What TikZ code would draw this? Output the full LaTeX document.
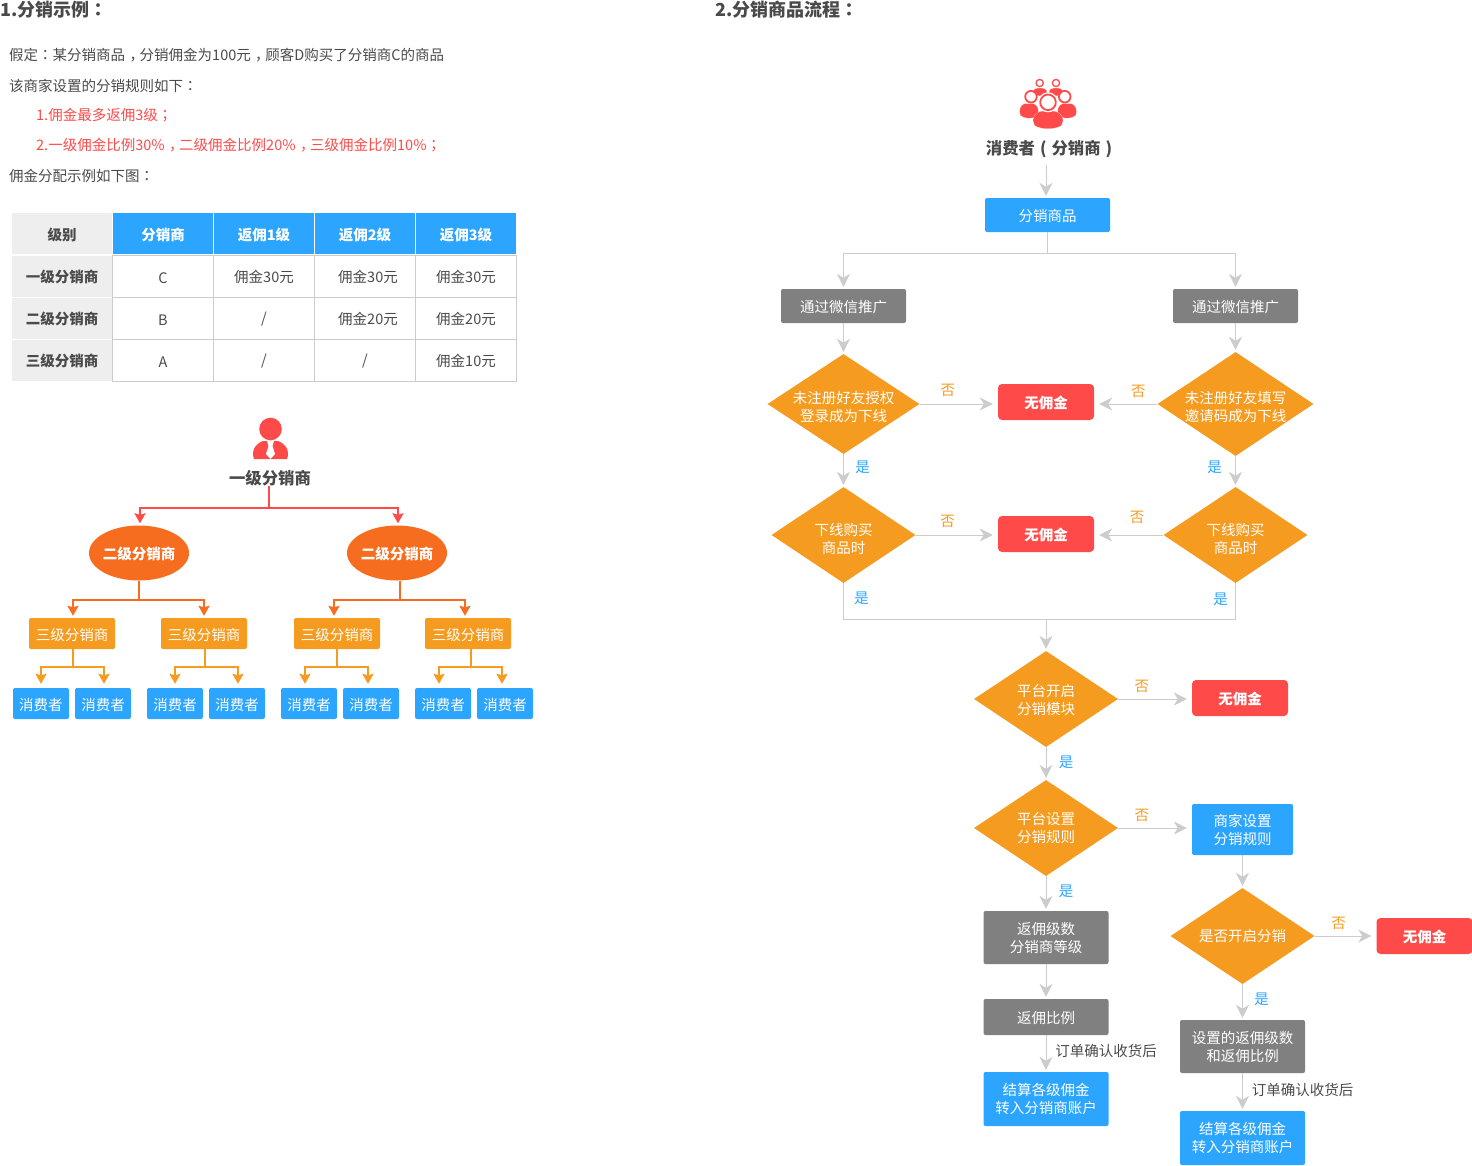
\documentclass[tikz,border=0pt]{standalone}
\usepackage{fontspec}
\setmainfont{Noto Sans CJK SC}
\newfontfamily\pctfont{Noto Sans CJK TC}
\usetikzlibrary{arrows.meta,positioning,shapes.geometric}

\definecolor{bluefill}{HTML}{2BA5FF}
\definecolor{orangefill}{HTML}{F59B20}
\definecolor{deepfill}{HTML}{F76D20}
\definecolor{redfill}{HTML}{FF4A4A}
\definecolor{grayfill}{HTML}{808080}
\definecolor{linegray}{HTML}{CCCCCC}
\definecolor{cellgray}{HTML}{EEEEEE}
\definecolor{textgray}{HTML}{4A4A4A}

\newcommand{\fsmall}{\fontsize{14.5}{18}\selectfont}
\newcommand{\fbold}{\fontsize{14.5}{18}\selectfont\bfseries}
\newcommand{\fhead}{\fontsize{16.4}{20}\selectfont\bfseries}
\newcommand{\ftitle}{\fontsize{18}{20}\selectfont\bfseries}
\newcommand{\pct}[1]{{\pctfont #1}}
\newcommand{\cma}{\hspace*{.3em}\makebox[.7em][l]{，}}
\newcommand{\paren}[1]{\makebox[1em][c]{#1}}
\newcommand{\lowfirst}{\rule{0pt}{19pt}}

\begin{document}
\begin{tikzpicture}[%
    x=1pt,y=-1pt,
    on grid,
    node distance=42pt,
    inner sep=0pt,
    nudge/.style={execute at begin node=\rule{0pt}{14.5pt}},
    tall/.style={execute at begin node=\rule{0pt}{16.5pt}},
    txt/.style={anchor=west,font=\fsmall,text=textgray},
    redtxt/.style={anchor=west,font=\fsmall,text=redfill},
    title/.style={anchor=west,font=\ftitle,text=textgray},
    head/.style={font=\fhead,text=textgray},
    graycell/.style={nudge,fill=cellgray,minimum width=100pt,minimum height=41pt,font=\fbold,text=textgray},
    bluecell/.style={nudge,fill=bluefill,minimum width=100pt,minimum height=41pt,font=\fbold,text=white},
    bodycell/.style={nudge,draw=linegray,line width=.8pt,minimum width=101pt,minimum height=42pt,font=\fsmall,text=textgray},
    flat/.style={nudge,rectangle,rounded corners=2pt,align=center,font=\fsmall,text=white},
    oval/.style={nudge,ellipse,inner sep=-8pt,fill=deepfill,minimum width=100pt,minimum height=55pt,font=\fbold,text=white},
    levelbox/.style={flat,fill=orangefill,minimum width=86pt,minimum height=31pt},
    buyerbox/.style={flat,fill=bluefill,minimum width=56pt,minimum height=31pt},
    bluebox/.style={flat,fill=bluefill,minimum width=125pt,minimum height=34pt},
    graybox/.style={flat,fill=grayfill,minimum width=125pt,minimum height=34pt},
    redbox/.style={flat,rounded corners=4pt,fill=redfill,minimum width=96pt,minimum height=36pt,font=\fbold},
    dia/.style={diamond,inner sep=-14pt,shape aspect=1.5,fill=orangefill,align=center,font=\fsmall,text=white,minimum width=144pt,minimum height=96pt},
    no/.style={font=\fsmall,text=orangefill},
    yes/.style={font=\fsmall,text=bluefill},
    note/.style={font=\fsmall,text=textgray},
    flow/.style={draw=linegray,line width=1pt},
    vgo/.style={flow,-{Stealth[length=13pt,width=13pt,inset=4pt]},shorten >=2pt},
    hgo/.style={flow,-{Stealth[length=13pt,width=13pt,inset=4pt]},shorten >=5pt},
    redtree/.style={draw=redfill,line width=2pt,-{Stealth[length=10pt,width=11pt,inset=1.5pt]},shorten >=2pt},
    deeptree/.style={draw=deepfill,line width=2pt,-{Stealth[length=10pt,width=11pt,inset=1.5pt]},shorten >=2pt},
    goldtree/.style={draw=orangefill,line width=2pt,-{Stealth[length=10pt,width=11pt,inset=1.5pt]},shorten >=4pt},
    bust/.pic={
        \fill[redfill,draw=white,line width=.12pt]
            (-1,.55) .. controls (-1,.15) and (-.6,0) .. (-.3,0) -- (.3,0)
            .. controls (.6,0) and (1,.15) .. (1,.55) -- (.9,.8)
            .. controls (.5,1.05) and (-.5,1.05) .. (-.9,.8) -- cycle;
    }
    ]
    \useasboundingbox (0,0) rectangle (1472,1165);

    % left: rule text
    \node[title] (t1) at (0,9.5) {1.分销示例\pct{：}};
    \node[title] (t2) at (715,9.5) {2.分销商品流程\pct{：}};
    \node[txt] (l1) at (9,55.5) {假定\pct{：}某分销商品\cma 分销佣金为100元\cma 顾客D购买了分销商C的商品};
    \node[txt] (l2) at (9,85.5) {该商家设置的分销规则如下\pct{：}};
    \node[redtxt] (l3) at (36,115.5) {1.佣金最多返佣3级\pct{；}};
    \node[redtxt] (l4) at (36,145.5) {2.一级佣金比例30\%\cma 二级佣金比例20\%\cma 三级佣金比例10\%\pct{；}};
    \node[txt] (l5) at (9,175.5) {佣金分配示例如下图\pct{：}};

    % table
    \node[graycell] (h0) at (62,233.5) {级别};
    \node[bluecell] (h1) [right=101pt of h0] {分销商};
    \node[bluecell] (h2) [right=101pt of h1] {返佣1级};
    \node[bluecell] (h3) [right=101pt of h2] {返佣2级};
    \node[bluecell] (h4) [right=101pt of h3] {返佣3级};
    \node[graycell] (r1) at (62,276) {一级分销商};
    \node[graycell] (r2) [below=of r1] {二级分销商};
    \node[graycell] (r3) [below=of r2] {三级分销商};
    \node[bodycell] (c11) at (163,276) {C};
    \node[bodycell] (c12) [right=101pt of c11] {佣金30元};
    \node[bodycell] (c13) [right=101pt of c12] {\hspace*{6pt}佣金30元};
    \node[bodycell] (c14) [right=101pt of c13] {佣金30元};
    \node[bodycell] (c21) [below=of c11] {B};
    \node[bodycell] (c22) [below=of c12] {/};
    \node[bodycell] (c23) [below=of c13] {\hspace*{6pt}佣金20元};
    \node[bodycell] (c24) [below=of c14] {佣金20元};
    \node[bodycell] (c31) [below=of c21] {A};
    \node[bodycell] (c32) [below=of c22] {/};
    \node[bodycell] (c33) [below=of c23] {/};
    \node[bodycell] (c34) [below=of c24] {佣金10元};

    % left: tree
    \fill[redfill] (270.5,429) circle (11.3pt);
    \fill[redfill] (254,459) .. controls (251,451) and (255,444) .. (263,441) -- (278,441)
        .. controls (286,444) and (290,451) .. (287,459) -- cycle;
    \fill[white] (267,441) -- (274,441) -- (272.5,446) -- (275,454) -- (270.5,459) -- (266,454) -- (268.5,446) -- cycle;
    \node[head] (boss) at (270,478) {一级分销商};

    \node[oval] (s1) at (139,553) {二级分销商};
    \node[oval] (s2) [right=258pt of s1] {二级分销商};
    \node[levelbox] (a1) at (72,633.5) {三级分销商};
    \node[levelbox] (a2) [right=132pt of a1] {三级分销商};
    \node[levelbox] (a3) [right=133pt of a2] {三级分销商};
    \node[levelbox] (a4) [right=131pt of a3] {三级分销商};
    \node[buyerbox] (b1) at (41,703.5) {消费者};
    \node[buyerbox] (b2) [right=62pt of b1] {消费者};
    \node[buyerbox] (b3) [right=72pt of b2] {消费者};
    \node[buyerbox] (b4) [right=62pt of b3] {消费者};
    \node[buyerbox] (b5) [right=72pt of b4] {消费者};
    \node[buyerbox] (b6) [right=62pt of b5] {消费者};
    \node[buyerbox] (b7) [right=72pt of b6] {消费者};
    \node[buyerbox] (b8) [right=62pt of b7] {消费者};

    \draw[redtree] ([xshift=-1pt]boss.south) -- ++(0,22) coordinate (bossj) -| ([xshift=1pt]s1.north);
    \draw[redtree] (bossj) -| ([xshift=1pt]s2.north);
    \draw[deeptree] (s1.south) -- ++(0,19) coordinate (s1j) -| ([xshift=1pt]a1.north);
    \draw[deeptree] (s1j) -| (a2.north);
    \draw[deeptree] ([xshift=3pt]s2.south) -- ++(0,19) coordinate (s2j) -| ([xshift=-3pt]a3.north);
    \draw[deeptree] (s2j) -| ([xshift=-3pt]a4.north);
    \draw[goldtree] ([xshift=1pt]a1.south) -- ++(0,18) coordinate (a1j) -| (b1.north);
    \draw[goldtree] (a1j) -| ([xshift=1pt]b2.north);
    \draw[goldtree] ([xshift=1pt]a2.south) -- ++(0,18) coordinate (a2j) -| (b3.north);
    \draw[goldtree] (a2j) -| ([xshift=1pt]b4.north);
    \draw[goldtree] (a3.south) -- ++(0,18) coordinate (a3j) -| ([xshift=-4pt]b5.north);
    \draw[goldtree] (a3j) -| ([xshift=-3pt]b6.north);
    \draw[goldtree] ([xshift=3pt]a4.south) -- ++(0,18) coordinate (a4j) -| ([xshift=-4pt]b7.north);
    \draw[goldtree] (a4j) -| ([xshift=-3pt]b8.north);

    % right: icon
    \path (1040,88) pic[xscale=7,yscale=8] {bust};
    \path (1056,88) pic[xscale=7,yscale=8] {bust};
    \draw[redfill,fill=white,line width=1.3pt] (1039.7,83) circle (3.6pt);
    \draw[redfill,fill=white,line width=1.3pt] (1056,83) circle (3.6pt);
    \path (1029,103.5) pic[xscale=9.5,yscale=15] {bust};
    \path (1067,103.5) pic[xscale=9.5,yscale=15] {bust};
    \draw[redfill,fill=white,line width=1.8pt] (1031,96.7) circle (5.8pt);
    \draw[redfill,fill=white,line width=1.8pt] (1064.7,96.7) circle (5.8pt);
    \path (1048,111) pic[xscale=15,yscale=18] {bust};
    \draw[white,line width=1pt,fill=white] (1048,102.3) circle (9.5pt);
    \draw[redfill,fill=white,line width=1.8pt] (1048,102.3) circle (7.8pt);

    % right: flow
    \node[bluebox] (goods) at (1047.5,215) {分销商品};
    \node[head] (buyer) [above right=66pt and 4pt of goods] {消费者\paren{(}分销商\paren{)}};
    \node[graybox] (wxl) [below left=91pt and 204pt of goods] {通过微信推广};
    \node[graybox] (wxr) [below right=91pt and 188pt of goods] {通过微信推广};
    \node[dia,minimum width=152pt,minimum height=100pt] (d1l) [below=98pt of wxl] {\lowfirst 未注册好友授权\\登录成为下线};
    \node[dia,minimum width=156pt,minimum height=104pt] (d1r) [below=98pt of wxr] {\lowfirst 未注册好友填写\\邀请码成为下线};
    \node[redbox] (no1) [above right=2pt and 202.5pt of d1l] {无佣金};
    \node[dia] (d2l) [below=131pt of d1l] {\rule{0pt}{21pt}下线购买\\商品时};
    \node[dia] (d2r) [below=131pt of d1r] {\rule{0pt}{21pt}下线购买\\商品时};
    \node[redbox] (no2) [above right=1pt and 202.5pt of d2l] {无佣金};
    \node[dia] (d3) [below right=164pt and 202.5pt of d2l] {\rule{0pt}{14.5pt}平台开启\\分销模块};
    \node[redbox] (no3) [above right=1pt and 194pt of d3] {无佣金};
    \node[dia] (d4) [below=129pt of d3] {平台设置\\分销规则};
    \node[bluebox,minimum width=101pt,minimum height=51pt] (rule) [below right=1.5pt and 196.5pt of d4] {商家设置\\分销规则};
    \node[graybox,tall,minimum height=53pt] (lev) [below=109.5pt of d4] {返佣级数\\分销商等级};
    \node[graybox,minimum height=36pt] (ratio) [below=79.5pt of lev] {返佣比例};
    \node[bluebox,tall,minimum height=54pt] (payl) [below=82pt of ratio] {结算各级佣金\\转入分销商账户};
    \node[dia] (d5) [below=106.5pt of rule] {是否开启分销};
    \node[redbox] (no4) [right=182pt of d5] {无佣金};
    \node[graybox,tall,minimum height=53pt] (setl) [below=110.5pt of d5] {设置的返佣级数\\和返佣比例};
    \node[bluebox,tall,minimum height=54pt] (payr) [below=91.5pt of setl] {结算各级佣金\\转入分销商账户};

    \path ([xshift=-5.5pt]buyer.south) edge[vgo,shorten <=7pt] ([xshift=-1.5pt]goods.north);
    \draw[vgo] (goods.south) -- ++(0,21) coordinate (goodsj) -| (wxl.north);
    \draw[vgo] (goodsj) -| (wxr.north);
    \path (wxl.south) edge[vgo] (d1l.north);
    \path (wxr.south) edge[vgo] (d1r.north);
    \path (d1l.east) edge[hgo] node[no,pos=.36,yshift=14pt] (n1) {否} (no1.west |- d1l.east);
    \path (d1r.west) edge[hgo] node[no,pos=.3,yshift=13pt] (n2) {否} (no1.east |- d1r.west);
    \path (d1l.south) edge[vgo] node[yes,pos=.4,xshift=19pt] (y1) {是} (d2l.north);
    \path (d1r.south) edge[vgo] node[yes,pos=.35,xshift=-21pt] (y2) {是} (d2r.north);
    \path (d2l.east) edge[hgo] node[no,pos=.39,yshift=14pt] (n3) {否} (no2.west |- d2l.east);
    \path (d2r.west) edge[hgo] node[no,pos=.38,yshift=18pt] (n4) {否} (no2.east |- d2r.west);
    \draw[flow] (d2l.south) -- node[yes,pos=.42,xshift=18pt] (y3) {是} ++(0,36) coordinate (flowj)
        -- (flowj -| d2r.south) -- node[yes,pos=.55,xshift=-15pt] (y4) {是} (d2r.south);
    \path (flowj -| d3.north) edge[vgo] (d3.north);
    \path (d3.east) edge[hgo] node[no,pos=.32,yshift=13pt] (n5) {否} (no3.west |- d3.east);
    \path (d3.south) edge[vgo] node[yes,pos=.45,xshift=20pt] (y5) {是} (d4.north);
    \path (d4.east) edge[hgo] node[no,pos=.32,yshift=13pt] (n6) {否} (rule.west |- d4.east);
    \path (d4.south) edge[vgo] node[yes,pos=.43,xshift=20pt] (y6) {是} (lev.north);
    \path (lev.south) edge[vgo] (ratio.north);
    \path (ratio.south) edge[vgo] node[note,pos=.43,xshift=60pt] (o1) {订单确认收货后} (payl.north);
    \path (rule.south) edge[vgo] (d5.north);
    \path (d5.east) edge[hgo] node[no,pos=.39,yshift=13pt] (n7) {否} (no4.west);
    \path (d5.south) edge[vgo] node[yes,pos=.42,xshift=19pt] (y7) {是} (setl.north);
    \path (setl.south) edge[vgo] node[note,pos=.45,xshift=60pt] (o2) {订单确认收货后} (payr.north);

\end{tikzpicture}
\end{document}
